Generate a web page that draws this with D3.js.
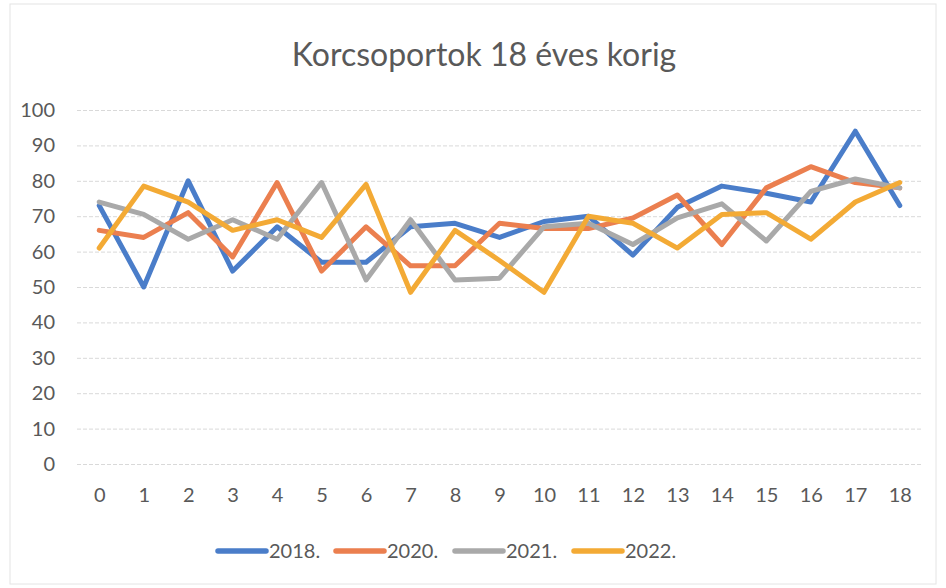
<!DOCTYPE html>
<html>
<head>
<meta charset="utf-8">
<script src="https://cdn.jsdelivr.net/npm/d3@7"></script>
<style>
  body { margin: 0; background: #fff; }
  text { font-family: Lato, "Open Sans", sans-serif; fill: #595959; }
</style>
</head>
<body>
<div id="chart"></div>
<script>
// data
var ages = d3.range(0, 19);
var yTicks = [0, 10, 20, 30, 40, 50, 60, 70, 80, 90, 100];
var seriesNames = ["2018.", "2020.", "2021.", "2022."];
var colors = ["#4a7dc9", "#eb7f4f", "#a9a9a9", "#f3aa35"];

var v2018 = [73, 50, 80, 54.5, 67, 57, 57, 67, 68, 64, 68.5, 70, 59, 72.5, 78.5, 76.5, 74, 94, 73];
var v2020 = [66, 64, 71, 58.5, 79.5, 54.5, 67, 56, 56, 68, 66.5, 66.5, 69.5, 76, 62, 78, 84, 79.5, 78];
var v2021 = [74, 70.5, 63.5, 69, 63.5, 79.5, 52, 69, 52, 52.5, 67, 68, 62, 69.5, 73.5, 63, 77, 80.5, 78];
var v2022 = [61, 78.5, 74, 66, 69, 64, 79, 48.5, 66, 57.5, 48.5, 70, 68, 61, 70.5, 71, 63.5, 74, 79.5];

var allValues = [v2018, v2020, v2021, v2022];

var width = 946, height = 588;
var margin = {top: 110, right: 24, bottom: 124, left: 77};

var svg = d3.select("#chart")
  .append("svg")
    .attr("width", width)
    .attr("height", height);

// faint frame of the chart object
svg.append("rect")
    .attr("x", 10).attr("y", 4)
    .attr("width", width - 20).attr("height", height - 8)
    .style("fill", "none")
    .attr("stroke", "#e4e4e4")
    .style("stroke-width", 1);

var x = d3.scalePoint()
    .domain(ages)
    .range([margin.left, width - margin.right])
    .padding(0.5);

var y = d3.scaleLinear()
    .domain([0, 100])
    .range([height - margin.bottom, margin.top]);

// title
svg.append("text")
    .attr("x", 484)
    .attr("y", 66)
    .attr("text-anchor", "middle")
    .style("font-size", "32px")
    .text("Korcsoportok 18 éves korig");

// gridlines + y labels
var yAxis = d3.axisLeft(y)
    .tickValues(yTicks)
    .tickSize(-(width - margin.left - margin.right))
    .tickPadding(22);

var gy = svg.append("g")
    .attr("transform", "translate(" + margin.left + ",0)")
    .call(yAxis);
gy.select(".domain").remove();
gy.selectAll(".tick line")
    .attr("stroke", "#d9d9d9")
    .attr("stroke-dasharray", "4,2");
gy.selectAll(".tick text")
    .style("font-size", "20px")
    .attr("fill", "#595959");

// x labels
var xAxis = d3.axisBottom(x).tickSize(0).tickPadding(24);
var gx = svg.append("g")
    .attr("transform", "translate(0," + y(0) + ")")
    .call(xAxis);
gx.select(".domain").remove();
gx.selectAll(".tick text")
    .style("font-size", "20px")
    .attr("fill", "#595959");

// lines
var line = d3.line()
    .x(function(d, i) { return x(ages[i]); })
    .y(function(d) { return y(d); });

svg.selectAll("path.series")
    .data(allValues)
    .enter()
    .append("path")
    .attr("class", "series")
    .attr("d", line)
    .style("fill", "none")
    .attr("stroke", function(d, i) { return colors[i]; })
    .style("stroke-width", 5)
    .attr("stroke-linejoin", "round")
    .attr("stroke-linecap", "round");

// legend
var legendX = [218, 336, 455, 574];
var legend = svg.selectAll("g.legend")
    .data(seriesNames)
    .enter()
    .append("g")
    .attr("class", "legend")
    .attr("transform", function(d, i) { return "translate(" + legendX[i] + ",551)"; });

legend.append("line")
    .attr("x1", 0).attr("x2", 48)
    .attr("y1", 0).attr("y2", 0)
    .attr("stroke", function(d, i) { return colors[i]; })
    .style("stroke-width", 5.5)
    .attr("stroke-linecap", "round");

legend.append("text")
    .attr("x", 51)
    .attr("y", 0)
    .attr("dy", "0.35em")
    .style("font-size", "20px")
    .text(function(d) { return d; });
</script>
</body>
</html>
